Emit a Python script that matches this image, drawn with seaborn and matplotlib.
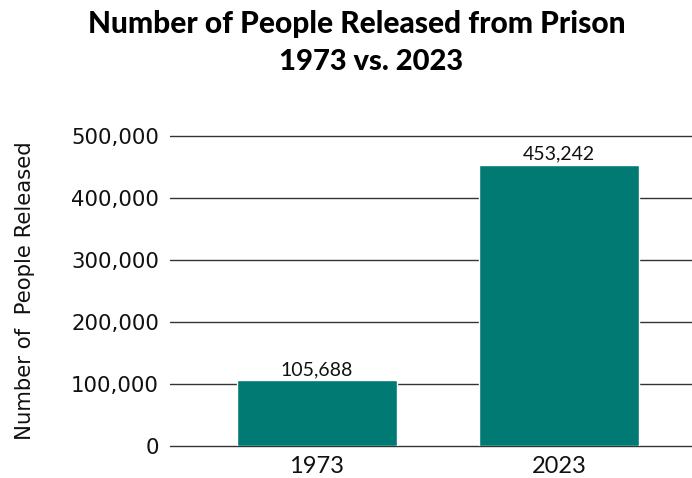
import matplotlib
matplotlib.use("Agg")
import matplotlib.pyplot as plt
import seaborn as sns
import pandas as pd
from matplotlib.ticker import FuncFormatter

years = ["1973", "2023"]
released = [105688, 453242]
yticks = [0, 100000, 200000, 300000, 400000, 500000]

sns.set_style("white")
plt.rcParams['font.family'] = ['DejaVu Sans']

df = pd.DataFrame({"year": years, "released": released})

fig = plt.figure(figsize=(6.92, 4.78), dpi=100)
ax = fig.add_axes([170/692, 1-446/478, (692-170)/692, (446-136)/478])

sns.barplot(data=df, x="year", y="released", color="#007A73", saturation=1,
            width=0.661, ax=ax, zorder=3)

ax.set_ylim(0, 500000)
ax.set_xlim(-0.607, 1.55)
ax.set_yticks(yticks)
ax.yaxis.set_major_formatter(FuncFormatter(lambda v, p: f"{int(v):,}"))
for y in yticks:
    ax.axhline(y, color="#333333", lw=1.0, zorder=1, clip_on=False)
for s in ax.spines.values():
    s.set_visible(False)
ax.tick_params(axis="y", length=0, pad=8, labelsize=15.3, labelcolor="#111111")
ax.tick_params(axis="x", length=0, pad=7, labelsize=17, labelcolor="#111111")
for lbl in ax.get_xticklabels():
    lbl.set_fontfamily("Lato")
ax.set_xlabel("")
ax.set_ylabel("Number of  People Released", fontsize=15.3, color="#111111", labelpad=26)

for i, v in enumerate(released):
    ax.text(i, v + 4000, f"{v:,}", ha="center", va="bottom", fontsize=14,
            family="Lato", color="#111111")

fig.text(0.516, 1-24/478, "Number of People Released from Prison", ha="center", va="center",
         fontsize=21.5, fontweight="black", family="Lato", color="#000000")
fig.text(0.536, 1-62/478, "1973 vs. 2023", ha="center", va="center",
         fontsize=21, fontweight="black", family="Lato", color="#000000")

fig.savefig("out.png", dpi=100)
